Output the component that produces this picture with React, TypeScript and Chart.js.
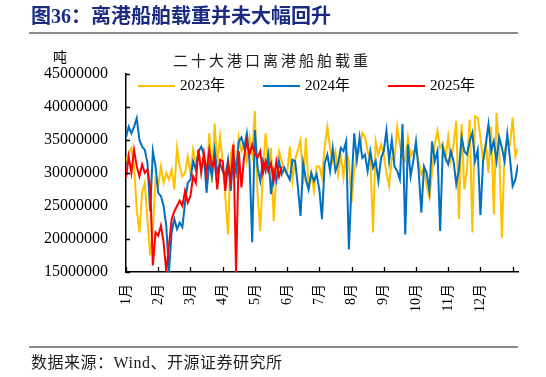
import React, { useEffect, useRef } from "react";
import { Chart, registerables } from "chart.js";

Chart.register(...registerables);

// Daily-ish readings (about 12 points per month), in million tons
const SERIES_NAMES = ["2023年", "2024年", "2025年"];
const MONTH_LABELS = ["1月", "2月", "3月", "4月", "5月", "6月", "7月", "8月", "9月", "10月", "11月", "12月"];
const Y_TICKS = [15000000, 20000000, 25000000, 30000000, 35000000, 40000000, 45000000];
const POINTS_PER_MONTH = 12;
const UNIT = 1000000;

const values2023 = [
  31.8, 33.0, 33.8, 31.0, 24.5, 21.0, 27.0, 28.5, 23.0, 17.5, 21.5, 29.0,
  28.0, 31.0, 28.5, 30.0, 29.0, 30.5, 27.5, 33.8, 31.0, 29.5, 30.0, 32.5,
  30.0, 33.6, 31.5, 33.0, 31.0, 31.8, 29.0, 36.0, 28.5, 37.5, 31.5, 35.5,
  31.8, 26.3, 20.7, 32.8, 34.3, 29.3, 35.4, 33.3, 34.3, 31.8, 35.4, 32.8,
  39.4, 26.8, 21.2, 30.3, 36.0, 30.8, 33.8, 22.7, 29.8, 33.3, 31.8, 30.3,
  29.8, 34.0, 28.8, 32.0, 33.5, 35.0, 28.3, 35.3, 28.0, 30.0, 27.3, 31.0,
  31.0, 29.3, 34.0, 37.0, 33.8, 31.8, 33.3, 29.8, 32.8, 29.3, 33.3, 31.8,
  25.5, 30.3, 32.8, 33.3, 36.1, 35.5, 33.3, 32.0, 21.0, 34.8, 32.8, 34.3,
  32.8, 30.0, 28.0, 32.3, 32.0, 37.0, 34.3, 32.3, 31.8, 35.4, 32.5, 33.3,
  33.3, 31.8, 29.8, 30.8, 28.0, 26.3, 30.0, 34.3, 36.4, 33.8, 34.5, 32.3,
  35.5, 31.8, 34.3, 37.9, 23.0, 37.4, 27.5, 30.5, 38.1, 21.0, 38.6, 38.4,
  35.4, 32.0, 34.5, 30.0, 37.0, 23.7, 39.1, 33.5, 20.2, 33.3, 34.8, 34.3, 38.4, 32.5, 33.8,
];

const values2024 = [
  35.4, 37.0, 36.0, 37.0, 38.3, 35.0, 34.0, 33.5, 31.5, 24.2, 33.3, 31.0,
  27.0, 26.5, 25.0, 22.0, 15.0, 21.0, 23.0, 21.5, 22.5, 21.8, 25.5, 28.5,
  29.0, 31.8, 30.5, 33.3, 34.0, 32.8, 27.0, 31.5, 29.5, 33.5, 30.0, 31.5,
  30.3, 29.5, 32.0, 27.3, 32.8, 30.3, 34.8, 35.4, 33.8, 36.0, 31.8, 19.5,
  36.5, 30.8, 28.8, 31.8, 30.3, 32.8, 26.8, 30.3, 28.8, 31.8, 29.8, 30.8,
  29.8, 29.0, 32.0, 31.8, 28.0, 23.5, 31.5, 29.0, 27.5, 30.0, 28.8, 29.8,
  27.5, 23.0, 31.5, 32.8, 30.3, 33.8, 30.3, 31.5, 33.8, 33.3, 34.8, 18.4,
  28.3, 36.0, 32.0, 35.4, 32.3, 32.8, 30.3, 33.3, 30.8, 31.8, 28.8, 32.3,
  33.3, 36.4, 31.8, 35.0, 31.0, 30.3, 29.0, 37.4, 20.7, 34.3, 29.5, 31.8,
  34.8, 30.3, 24.0, 31.0, 30.0, 27.3, 34.8, 31.8, 33.3, 21.2, 33.8, 32.3,
  31.3, 33.3, 31.8, 28.3, 30.5, 35.4, 33.3, 32.8, 34.8, 36.1, 31.8, 33.5,
  23.6, 31.8, 34.3, 37.4, 33.3, 34.8, 31.8, 35.4, 33.8, 31.8, 35.9, 32.3, 28.0, 29.0, 31.3,
];

const values2025 = [
  29.3, 32.5, 30.0, 33.5, 31.0, 29.5, 31.3, 30.0, 30.5, 28.0, 16.0, 21.0,
  20.5, 22.0, 19.5, 15.0, 19.0, 23.0, 24.2, 25.0, 25.8, 25.0, 27.3, 25.5,
  26.5, 29.5, 28.5, 33.6, 30.0, 33.0, 30.0, 33.5, 31.0, 32.0, 27.5, 32.0,
  31.8, 27.3, 31.3, 28.8, 34.3, 15.0, 33.3, 27.8, 32.5, 34.8, 32.8, 34.3,
  33.0, 32.3, 33.3, 30.0, 31.8, 30.3, 31.5, 28.8, 31.8, 29.5, 31.0,
];

const COLORS = ["#FFC000", "#0070C0", "#FF0000"];
const FONT = '"Liberation Serif", "Noto Sans CJK SC", serif';

const toPoints = (vals: number[]) =>
  vals.map((v, i) => ({ x: i / POINTS_PER_MONTH, y: v * UNIT }));

const inwardTicks = {
  id: "inwardTicks",
  afterDraw(chart: any) {
    const { ctx, chartArea, scales } = chart;
    ctx.save();
    ctx.strokeStyle = "#000";
    ctx.lineWidth = 1.3;
    ctx.beginPath();
    scales.x.ticks.forEach((t: any) => {
      const px = Math.round(scales.x.getPixelForValue(t.value)) + 0.5;
      ctx.moveTo(px, chartArea.bottom);
      ctx.lineTo(px, chartArea.bottom - 5);
    });
    scales.y.ticks.forEach((t: any) => {
      const py = Math.round(scales.y.getPixelForValue(t.value)) + 0.5;
      ctx.moveTo(chartArea.left, py);
      ctx.lineTo(chartArea.left + 4, py);
    });
    ctx.stroke();
    ctx.restore();
  },
};

export default function App() {
  const ref = useRef<HTMLCanvasElement | null>(null);

  useEffect(() => {
    if (!ref.current) return;
    const all = [values2023, values2024, values2025];
    const maxX = (values2023.length - 1) / POINTS_PER_MONTH;
    const chart = new Chart(ref.current, {
      type: "line",
      data: {
        datasets: all.map((vals, k) => ({
          label: SERIES_NAMES[k],
          data: toPoints(vals),
          borderColor: COLORS[k],
          backgroundColor: COLORS[k],
          borderWidth: 2,
          pointRadius: 0,
          tension: 0,
          order: 2 - k,
        })),
      },
      options: {
        responsive: false,
        animation: false,
        layout: { padding: { left: 0, right: 28, top: 74, bottom: 65 } },
        plugins: {
          legend: { display: false },
          title: { display: false },
          tooltip: { enabled: false },
        },
        scales: {
          x: {
            type: "linear",
            min: 0,
            max: maxX,
            afterBuildTicks: (s: any) => {
              s.ticks = MONTH_LABELS.map((_, i) => ({ value: i })).concat([{ value: 12 }]);
            },
            afterFit: (s: any) => {
              s.height = 40;
            },
            grid: { display: false, drawTicks: false },
            border: { display: true, color: "#000", width: 1.5 },
            ticks: {
              autoSkip: false,
              minRotation: 90,
              maxRotation: 90,
              padding: 12,
              color: "#000",
              font: { family: FONT, size: 14 },
              callback: (v: any) => MONTH_LABELS[v as number] ?? "",
            },
          },
          y: {
            min: Y_TICKS[0],
            max: Y_TICKS[Y_TICKS.length - 1],
            afterBuildTicks: (s: any) => {
              s.ticks = Y_TICKS.map((v) => ({ value: v }));
            },
            afterFit: (s: any) => {
              s.width = 126;
            },
            grid: { display: false, drawTicks: false },
            border: { display: true, color: "#000", width: 1.5 },
            ticks: {
              padding: 18,
              color: "#000",
              font: { family: FONT, size: 16 },
              callback: (v: any) => String(v),
            },
          },
        },
      },
      plugins: [inwardTicks],
    } as any);
    return () => chart.destroy();
  }, []);

  const legendItems = [
    { line: 138, text: 180 },
    { line: 263, text: 305 },
    { line: 388, text: 430 },
  ];

  return (
    <div
      style={{
        position: "absolute",
        left: 0,
        top: 0,
        width: 546,
        height: 377,
        background: "#fff",
        overflow: "hidden",
        fontFamily: FONT,
      }}
    >
      <canvas
        ref={ref}
        width={546}
        height={377}
        style={{ position: "absolute", left: 0, top: 0, width: 546, height: 377 }}
      />
      <div
        style={{
          position: "absolute",
          left: 31,
          top: 6,
          fontSize: 20,
          lineHeight: "20px",
          fontWeight: 700,
          color: "#1b2c80",
          whiteSpace: "nowrap",
        }}
      >
        图36：离港船舶载重并未大幅回升
      </div>
      <div style={{ position: "absolute", left: 29, top: 32, width: 489, height: 2, background: "#8c8c8c" }} />
      <div
        style={{
          position: "absolute",
          left: 173,
          top: 53,
          fontSize: 15,
          lineHeight: "16px",
          letterSpacing: 3,
          color: "#222",
          whiteSpace: "nowrap",
        }}
      >
        二十大港口离港船舶载重
      </div>
      <div
        style={{
          position: "absolute",
          left: 53,
          top: 51,
          fontSize: 14,
          lineHeight: "14px",
          color: "#000",
        }}
      >
        吨
      </div>
      {legendItems.map((it, k) => (
        <React.Fragment key={k}>
          <div
            style={{
              position: "absolute",
              left: it.line,
              top: 85,
              width: 37,
              height: 2,
              background: COLORS[k],
            }}
          />
          <div
            style={{
              position: "absolute",
              left: it.text,
              top: 77,
              fontSize: 15,
              lineHeight: "16px",
              color: "#000",
              whiteSpace: "nowrap",
            }}
          >
            {SERIES_NAMES[k]}
          </div>
        </React.Fragment>
      ))}
      <div style={{ position: "absolute", left: 29, top: 346, width: 489, height: 2, background: "#8c8c8c" }} />
      <div
        style={{
          position: "absolute",
          left: 31,
          top: 355,
          fontSize: 16,
          lineHeight: "16px",
          letterSpacing: 0.5,
          color: "#222",
          whiteSpace: "nowrap",
        }}
      >
        数据来源：Wind、开源证券研究所
      </div>
    </div>
  );
}
